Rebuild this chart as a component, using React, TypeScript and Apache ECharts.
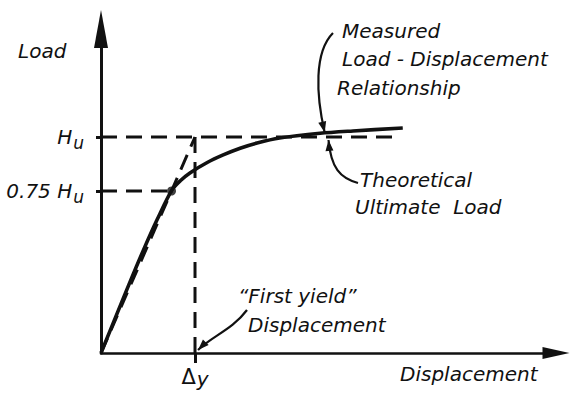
import React, { useEffect, useRef } from 'react';
import * as echarts from 'echarts';

// Measured load–displacement relationship (displacement in units of Δy, load in units of Hu)
const measuredDisp = [0, 0.15, 0.3, 0.45, 0.6, 0.755, 0.85, 0.95, 1.13, 1.3, 1.48, 1.66, 1.9, 2.33, 2.68, 3.21];
const measuredLoad = [0, 0.16, 0.32, 0.475, 0.62, 0.755, 0.8, 0.835, 0.882, 0.917, 0.948, 0.972, 0.995, 1.017, 1.028, 1.042];

// Reference quantities
const ultimateLoad = [1]; // Hu
const yieldFraction = [0.75]; // 0.75 Hu
const yieldDisp = [1]; // Δy
const ultimateLineEnd = [3.18];

// Axis marks
const loadTicks = [0.75, 1];
const dispTicks = [1];

const INK = '#111';
const FONT = 'DejaVu Sans';

const txt = (text: string, x: number, y: number, size = 20) => ({
  type: 'text',
  x,
  y,
  style: {
    text,
    fill: INK,
    font: `italic ${size}px "${FONT}"`,
    textVerticalAlign: 'middle',
    verticalAlign: 'middle',
  },
});

const arrowHead = (tip: number[], from: number[], len = 11, half = 4) => {
  const dx = tip[0] - from[0];
  const dy = tip[1] - from[1];
  const d = Math.hypot(dx, dy) || 1;
  const ux = dx / d;
  const uy = dy / d;
  const bx = tip[0] - ux * len;
  const by = tip[1] - uy * len;
  return {
    type: 'polygon',
    shape: {
      points: [tip, [bx - uy * half, by + ux * half], [bx + uy * half, by - ux * half]],
    },
    style: { fill: INK },
  };
};

const leader = (p1: number[], c1: number[], c2: number[], p2: number[]) => [
  {
    type: 'bezierCurve',
    shape: { x1: p1[0], y1: p1[1], cpx1: c1[0], cpy1: c1[1], cpx2: c2[0], cpy2: c2[1], x2: p2[0], y2: p2[1] },
    style: { stroke: INK, lineWidth: 2.2, fill: 'none' },
  },
  arrowHead(p2, c2),
];

export default function App() {
  const ref = useRef<HTMLDivElement>(null);

  useEffect(() => {
    if (!ref.current) return;
    const chart = echarts.init(ref.current, undefined, { renderer: 'svg' });
    const Hu = ultimateLoad[0];
    const dy = yieldDisp[0];
    const f = yieldFraction[0];

    const dashed = { color: INK, width: 3, type: [16, 9] as number[], cap: 'butt' };
    const richStyle = {
      h: { fontSize: 20, fontStyle: 'italic', fontFamily: FONT, color: INK, lineHeight: 22 },
      s: { fontSize: 17, fontStyle: 'italic', fontFamily: FONT, color: INK, lineHeight: 22, padding: [12, 0, 0, 1] },
      d: { fontSize: 21, fontFamily: FONT, color: INK, lineHeight: 24 },
      y: { fontSize: 20, fontStyle: 'italic', fontFamily: FONT, color: INK, lineHeight: 24, padding: [4, 0, 0, 1] },
    };

    chart.setOption({
      animation: false,
      backgroundColor: '#fff',
      grid: { left: 101, right: 15, top: 29, bottom: 41 },
      xAxis: {
        type: 'value',
        min: 0,
        max: 4.84,
        splitLine: { show: false },
        axisLine: {
          lineStyle: { color: INK, width: 2.6 },
          symbol: ['none', 'triangle'],
          symbolSize: [12, 27],
        },
        axisTick: { show: true, customValues: dispTicks, length: 10, lineStyle: { color: INK, width: 3 } },
        axisLabel: {
          customValues: dispTicks,
          margin: 12,
          formatter: () => '{d|Δ}{y|y}',
          rich: richStyle,
        },
      },
      yAxis: {
        type: 'value',
        min: 0,
        max: 1.5,
        splitLine: { show: false },
        axisLine: {
          lineStyle: { color: INK, width: 3 },
          symbol: ['none', 'triangle'],
          symbolSize: [14, 38],
        },
        axisTick: { show: true, customValues: loadTicks, length: 5, lineStyle: { color: INK, width: 3 } },
        axisLabel: {
          customValues: loadTicks,
          margin: 17,
          formatter: (v: number) => (v === Hu ? '{h|H}{s|u}' : `{h|${v} H}{s|u}`),
          rich: richStyle,
        },
      },
      series: [
        {
          name: 'Measured',
          type: 'line',
          smooth: 0.3,
          showSymbol: false,
          data: measuredDisp.map((x, i) => [x, measuredLoad[i]]),
          lineStyle: { color: INK, width: 3.6 },
          z: 5,
        },
        {
          name: 'Secant',
          type: 'line',
          showSymbol: false,
          data: [[0, 0], [dy, Hu]],
          lineStyle: dashed,
        },
        {
          name: 'Ultimate',
          type: 'line',
          showSymbol: false,
          data: [[0, Hu], [ultimateLineEnd[0], Hu]],
          lineStyle: dashed,
        },
        {
          name: 'Three-quarter',
          type: 'line',
          showSymbol: false,
          data: [[0, f * Hu], [f * dy, f * Hu]],
          lineStyle: dashed,
        },
        {
          name: 'Yield',
          type: 'line',
          showSymbol: false,
          data: [[dy, Hu], [dy, 0]],
          lineStyle: dashed,
        },
        {
          name: 'Point',
          type: 'scatter',
          symbolSize: 9,
          itemStyle: { color: INK },
          data: [[f * dy, f * Hu]],
          z: 6,
        },
      ],
    });

    const px = (p: number[]) => chart.convertToPixel({ gridIndex: 0 }, p) as number[];
    const mTip = px([2.39, 1.03]);
    const tTip = px([2.42, Hu]);
    const yTip = px([dy, 0]);

    chart.setOption({
      graphic: [
        txt('Load', 18, 51),
        txt('Measured', 342, 31),
        txt('Load - Displacement', 342, 59),
        txt('Relationship', 337, 88),
        txt('Theoretical', 360, 180),
        txt('Ultimate  Load', 355, 207),
        txt('“First yield”', 238, 296),
        txt('Displacement', 248, 325),
        txt('Displacement', 400, 374),
        ...leader([333, 33], [314, 52], [316, 95], [mTip[0] - 1, mTip[1] + 2]),
        ...leader([358, 183], [340, 178], [331, 168], [tTip[0], tTip[1] + 3]),
        ...leader([247, 310], [232, 330], [212, 336], [yTip[0] + 3, yTip[1] - 3]),
      ],
    });

    return () => chart.dispose();
  }, []);

  return (
    <div
      ref={ref}
      style={{ position: 'absolute', left: 0, top: 0, width: 571, height: 394, background: '#fff' }}
    />
  );
}
